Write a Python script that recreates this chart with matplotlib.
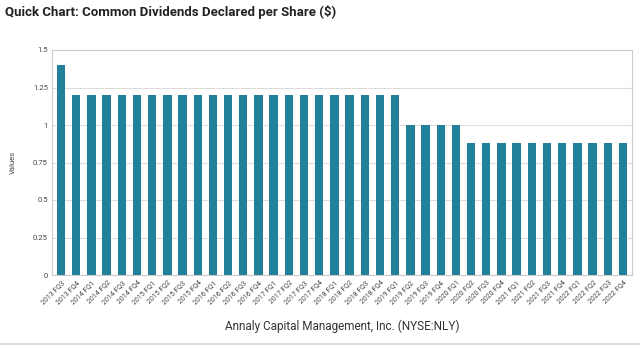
import numpy as np
import matplotlib.pyplot as plt
from matplotlib.lines import Line2D

quarters = ["2013 FQ3", "2013 FQ4"] + [f"{y} FQ{q}" for y in range(2014, 2023) for q in range(1, 5)]
dividends = [1.40] + [1.20] * 22 + [1.00] * 4 + [0.88] * 11
yticks = [0, 0.25, 0.5, 0.75, 1, 1.25, 1.5]
yticklabels = ["0", "0.25", "0.5", "0.75", "1", "1.25", "1.5"]

bar_color = "#22819a"
plt.rcParams["font.family"] = ["Roboto", "DejaVu Sans"]

fig = plt.figure(figsize=(6.4, 3.5), dpi=100)
ax = fig.add_axes([52 / 640, 1 - 275 / 350, 580 / 640, 225 / 350])

x = np.arange(len(quarters))
ax.bar(x, dividends, width=0.55, color=bar_color, zorder=3)
ax.set_xlim(-0.6, len(quarters) - 0.4)
ax.set_ylim(0, 1.5)
ax.set_yticks(yticks)
ax.set_yticklabels(yticklabels, fontsize=5.5, color="#444444")
ax.grid(axis="y", color="#dddddd", linewidth=0.8, zorder=0)
ax.set_xticks(x)
ax.set_xticklabels(quarters, rotation=45, ha="right", rotation_mode="anchor",
                   fontsize=5, color="#444444")
ax.tick_params(axis="both", length=0, pad=3)
for s in ax.spines.values():
    s.set_color("#cccccc")
    s.set_linewidth(0.8)
ax.set_ylabel("Values", fontsize=5.5, color="#444444", labelpad=12)

fig.text(5 / 640, 1 - 12 / 350, "Quick Chart: Common Dividends Declared per Share ($)",
         fontsize=9.5, fontweight="bold", color="#222222", va="center", ha="left")
fig.text(342 / 640, 1 - 326 / 350, "Annaly Capital Management, Inc. (NYSE:NLY)",
         fontsize=8.5, color="#333333", va="center", ha="center")
fig.add_artist(Line2D([0, 1], [1 - 344 / 350] * 2, transform=fig.transFigure,
                      color="#dddddd", linewidth=1.5))

fig.savefig("out.png", dpi=100)
